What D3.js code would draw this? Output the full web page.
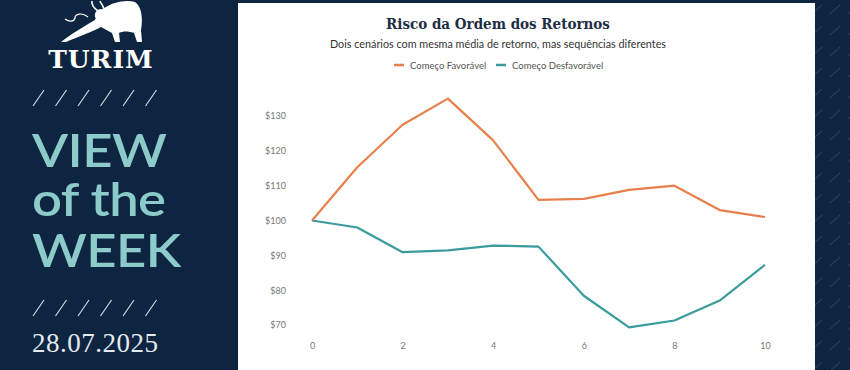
<!DOCTYPE html>
<html><head><meta charset="utf-8">
<script src="https://cdn.jsdelivr.net/npm/d3@7/dist/d3.min.js"></script>
<style>
html,body{margin:0;padding:0;background:#0d2540;}
svg{display:block;}
</style></head>
<body>
<svg id="c" width="850" height="370"></svg>
<script>
const periods = [0,1,2,3,4,5,6,7,8,9,10];
const favoravel = [100,115.3,127.5,135,123,105.9,106.2,108.8,110,103,101];
const desfavoravel = [100,98,90.9,91.4,92.8,92.5,78.4,69.3,71.3,77,87.3];
const seriesNames = ["Começo Favorável","Começo Desfavorável"];
const yTicks = [70,80,90,100,110,120,130];
const xTicks = [0,2,4,6,8,10];

const svg = d3.select("#c");
const W = 850, H = 370;

// background
svg.append("rect").attr("width",W).attr("height",H).attr("fill","#0d2540");
const defs = svg.append("defs");
const pat = defs.append("pattern").attr("id","hatch").attr("patternUnits","userSpaceOnUse")
  .attr("width",18).attr("height",21);
pat.append("line").attr("x1",2).attr("y1",14).attr("x2",12).attr("y2",5)
  .attr("stroke","#3b5673").attr("stroke-width",1).attr("opacity",0.7);
svg.append("rect").attr("x",815).attr("y",0).attr("width",35).attr("height",H).attr("fill","url(#hatch)");
svg.append("rect").attr("x",240).attr("y",0).attr("width",575).attr("height",3).attr("fill","url(#hatch)");

// left panel
const L = svg.append("g");
// bull logo (simplified silhouette, facing left)
L.append("path").attr("fill","#ffffff").attr("d",
 "M100,12 C108,3 124,-1 135,2 C142,7 143,19 141,30 L142,42 L137,42 L134,33 C128,31 123,31 119,33 L120,42 L115,42 L112,33 C108,31 105,29 101,27 C94,31 80,36 66,42 L61,42 C71,34 85,26 95,20 C96,17 98,14 100,12 Z");
L.append("path").attr("fill","#ffffff").attr("d",
 "M101,9 C97,9 94,13 95,17 C97,21 101,22 105,20 C108,17 107,12 104,10 Z");
L.append("path").attr("fill","none").attr("stroke","#fff").attr("stroke-width",1.6)
 .attr("d","M98,11 C94,8 91,5 92,1 M104,10 C104,6 101,4 100,1");
L.append("path").attr("fill","none").attr("stroke","#fff").attr("stroke-width",1.2)
 .attr("d","M88,17 C82,12 75,14 75,18 C74,22 69,22 65,19");
L.append("text").attr("x",101).attr("y",68).attr("text-anchor","middle")
  .attr("font-family","'DejaVu Serif', 'Liberation Serif', serif").attr("font-weight","bold")
  .attr("font-size",25).attr("fill","#ffffff").attr("letter-spacing",1).text("TURIM");
function slashes(y0){
  for(let i=0;i<6;i++){
    const x = 33 + i*22.5;
    L.append("line").attr("x1",x).attr("y1",y0+16).attr("x2",x+11).attr("y2",y0)
     .attr("stroke","#d8e2ea").attr("stroke-width",1.1);
  }
}
slashes(90);
slashes(300);
const vw = L.append("text").attr("transform","translate(32,0) scale(1.12,1)")
  .attr("font-family","Lato, 'Open Sans', sans-serif").attr("font-weight",600)
  .attr("font-size",47).attr("fill","#8ccbca").attr("letter-spacing",-0.5);
vw.append("tspan").attr("x",0).attr("y",167).text("VIEW");
vw.append("tspan").attr("x",0).attr("y",216).text("of the");
vw.append("tspan").attr("x",0).attr("y",267).text("WEEK");
L.append("text").attr("x",32).attr("y",352).attr("font-family","'Liberation Serif', 'DejaVu Serif', serif")
  .attr("font-size",27).attr("fill","#e4eaef").attr("letter-spacing",0.5).text("28.07.2025");

// white chart panel
svg.append("rect").attr("x",238).attr("y",3).attr("width",577).attr("height",H-3).attr("fill","#ffffff");

const cx = 498;
svg.append("text").attr("x",cx).attr("y",29).attr("text-anchor","middle")
  .attr("font-family","'DejaVu Serif Condensed', 'Liberation Serif', serif").attr("font-stretch","condensed")
  .attr("font-weight","bold").attr("font-size",15)
  .attr("fill","#1d2e44").text("Risco da Ordem dos Retornos");
svg.append("text").attr("x",cx).attr("y",48).attr("text-anchor","middle")
  .attr("font-family","Lato, sans-serif").attr("font-size",10.8)
  .attr("fill","#333").text("Dois cenários com mesma média de retorno, mas sequências diferentes");

const colors = ["#e8804b","#3a9c9c"];
const legendPos = [394, 496];
seriesNames.forEach((n,i)=>{
  svg.append("line").attr("x1",legendPos[i]).attr("x2",legendPos[i]+10).attr("y1",65).attr("y2",65)
    .attr("stroke",colors[i]).attr("stroke-width",2.5);
  svg.append("text").attr("x",legendPos[i]+16).attr("y",68.5).attr("font-family","Lato, sans-serif")
    .attr("font-size",9.5).attr("fill","#555").text(n);
});

const x = d3.scaleLinear().domain([0,10]).range([312,765]);
const y = d3.scaleLinear().domain([70,130]).range([325,116]);

const yAxis = svg.append("g").attr("transform","translate(291,0)")
  .call(d3.axisLeft(y).tickValues(yTicks).tickSize(0).tickPadding(5).tickFormat(d=>"$"+d));
yAxis.select(".domain").remove();
yAxis.selectAll("text").attr("font-family","Lato, sans-serif").attr("font-size",9).attr("fill","#777");

const xAxis = svg.append("g").attr("transform","translate(0,340)")
  .call(d3.axisBottom(x).tickValues(xTicks).tickSize(0).tickPadding(3).tickFormat(d3.format("d")));
xAxis.select(".domain").remove();
xAxis.selectAll("text").attr("font-family","Lato, sans-serif").attr("font-size",9).attr("fill","#777");

const line = d3.line().x((d,i)=>x(periods[i])).y(d=>y(d));
svg.append("path").datum(desfavoravel).attr("d",line).attr("fill","none")
  .attr("stroke",colors[1]).attr("stroke-width",2.2).attr("stroke-linejoin","round");
svg.append("path").datum(favoravel).attr("d",line).attr("fill","none")
  .attr("stroke",colors[0]).attr("stroke-width",2.2).attr("stroke-linejoin","round");
</script>
</body></html>
